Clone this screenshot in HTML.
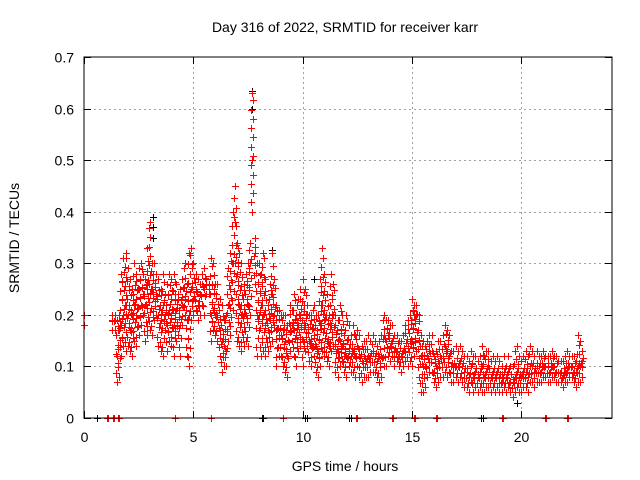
<!DOCTYPE html>
<html><head><meta charset="utf-8"><style>
body{margin:0;background:#fff}
svg{display:block;font-family:"Liberation Sans",sans-serif}
</style></head><body>
<svg id="chart" width="640" height="480" viewBox="0 0 640 480">
<rect width="640" height="480" fill="#fff"/>
<text x="345" y="32" font-size="14" text-anchor="middle">Day 316 of 2022, SRMTID for receiver karr</text>
<text x="345" y="471" font-size="14" text-anchor="middle">GPS time / hours</text>
<text transform="translate(19,238) rotate(-90)" font-size="14" text-anchor="middle">SRMTID / TECUs</text>
<g id="grid"></g>
<g id="ticks"></g>
<g id="marks"></g>
<rect x="84" y="57" width="528" height="361" fill="none" stroke="#000" stroke-width="1"/>
</svg>
<script>
const xTicks=[0,5,10,15,20];
const yTicks=[0,0.1,0.2,0.3,0.4,0.5,0.6,0.7];
const yTickLabels=["0","0.1","0.2","0.3","0.4","0.5","0.6","0.7"];
const times=[1.3,1.4,1.5,1.6,1.7,1.8,1.9,
2.0,2.1,2.2,2.3,2.4,2.5,2.6,2.7,2.8,2.9,3.0,3.1,3.2,3.3,3.4,3.5,3.6,3.7,3.8,3.9,
4.0,4.1,4.2,4.3,4.4,4.5,4.6,4.7,4.8,4.9,5.0,5.1,5.2,5.3,5.4,5.5,5.6,5.7,5.8,5.9,
6.0,6.1,6.2,6.3,6.4,6.5,6.6,6.7,6.8,6.9,7.0,7.1,7.2,7.3,7.4,7.5,7.6,7.7,7.8,7.9,
8.0,8.1,8.2,8.3,8.4,8.5,8.6,8.7,8.8,8.9,9.0,9.1,9.2,9.3,9.4,9.5,9.6,9.7,9.8,9.9,
10.0,10.1,10.2,10.3,10.4,10.5,10.6,10.7,10.8,10.9,11.0,11.1,11.2,11.3,11.4,11.5,11.6,11.7,11.8,11.9,
12.0,12.1,12.2,12.3,12.4,12.5,12.6,12.7,12.8,12.9,13.0,13.1,13.2,13.3,13.4,13.5,13.6,13.7,13.8,13.9,
14.0,14.1,14.2,14.3,14.4,14.5,14.6,14.7,14.8,14.9,15.0,15.1,15.2,15.3,15.4,15.5,15.6,15.7,15.8,15.9,
16.0,16.1,16.2,16.3,16.4,16.5,16.6,16.7,16.8,16.9,17.0,17.1,17.2,17.3,17.4,17.5,17.6,17.7,17.8,17.9,
18.0,18.1,18.2,18.3,18.4,18.5,18.6,18.7,18.8,18.9,19.0,19.1,19.2,19.3,19.4,19.5,19.6,19.7,19.8,19.9,
20.0,20.1,20.2,20.3,20.4,20.5,20.6,20.7,20.8,20.9,21.0,21.1,21.2,21.3,21.4,21.5,21.6,21.7,21.8,21.9,
22.0,22.1,22.2,22.3,22.4,22.5,22.6,22.7,22.8];
const lowVals=[.17,.17,.07,.08,.12,.14,.13,
.14,.13,.12,.15,.14,.16,.18,.2,.15,.16,.17,.16,.19,.2,.14,.13,.12,.17,.13,.15,
.14,.12,.15,.16,.12,.18,.2,.12,.1,.19,.2,.21,.19,.2,.22,.2,.24,.24,.15,.17,
.16,.15,.12,.09,.1,.1,.15,.16,.21,.3,.15,.14,.13,.14,.15,.14,.2,.4,.26,.12,
.17,.12,.13,.12,.13,.14,.15,.18,.1,.12,.12,.1,.09,.08,.13,.15,.12,.1,.13,.14,
.1,.13,.14,.11,.1,.12,.09,.08,.1,.13,.12,.11,.1,.13,.14,.09,.08,.1,.11,.09,
.08,.1,.09,.09,.08,.1,.08,.07,.08,.08,.08,.09,.09,.09,.08,.07,.08,.1,.1,.12,
.11,.12,.1,.11,.1,.09,.1,.11,.1,.11,.1,.12,.13,.08,.05,.05,.06,.08,.09,.09,
.07,.06,.07,.08,.08,.09,.08,.09,.07,.07,.08,.07,.08,.07,.06,.06,.05,.07,.05,.06,
.05,.06,.05,.05,.06,.06,.05,.06,.05,.06,.05,.05,.06,.05,.06,.05,.04,.05,.06,.05,
.05,.06,.06,.05,.07,.07,.06,.07,.07,.07,.08,.08,.07,.07,.08,.08,.07,.07,.07,.06,
.07,.07,.08,.08,.07,.06,.07,.07,.08];
const midVals=[.19,.19,.12,.17,.18,.2,.22,
.2,.17,.2,.22,.2,.25,.22,.24,.22,.26,.24,.25,.3,.24,.2,.19,.22,.2,.18,.21,
.2,.18,.21,.23,.18,.22,.23,.19,.2,.25,.23,.25,.22,.24,.26,.25,.26,.25,.2,.21,
.2,.2,.17,.15,.14,.13,.22,.25,.3,.38,.28,.22,.2,.2,.2,.22,.3,.5,.32,.2,
.2,.22,.2,.18,.17,.19,.24,.2,.17,.16,.16,.17,.15,.12,.18,.18,.17,.16,.18,.2,
.15,.18,.2,.15,.14,.16,.14,.13,.18,.22,.19,.15,.14,.18,.2,.14,.13,.15,.14,.12,
.12,.13,.12,.13,.12,.14,.12,.11,.12,.11,.12,.12,.13,.12,.11,.12,.12,.16,.15,.16,
.14,.15,.13,.13,.12,.12,.13,.13,.14,.15,.15,.2,.2,.15,.12,.1,.1,.12,.13,.13,
.09,.1,.11,.12,.12,.14,.13,.12,.1,.1,.1,.1,.11,.1,.09,.09,.08,.1,.08,.09,
.08,.09,.1,.08,.09,.1,.08,.09,.08,.09,.08,.07,.09,.08,.09,.07,.07,.08,.09,.08,
.08,.09,.09,.08,.1,.1,.09,.1,.1,.09,.1,.1,.1,.09,.1,.1,.09,.09,.09,.08,
.09,.09,.1,.1,.09,.09,.1,.1,.11];
const highVals=[.2,.2,.19,.2,.28,.31,.32,
.29,.27,.25,.3,.28,.29,.3,.28,.27,.33,.38,.3,.3,.28,.27,.25,.28,.24,.26,.28,
.27,.28,.26,.24,.25,.27,.3,.26,.32,.33,.3,.28,.27,.26,.28,.29,.27,.26,.31,.3,
.26,.26,.23,.22,.19,.2,.29,.32,.4,.45,.34,.32,.3,.26,.28,.3,.34,.63,.35,.3,
.3,.28,.32,.27,.22,.26,.32,.27,.22,.21,.2,.2,.2,.18,.22,.21,.24,.2,.23,.25,
.27,.25,.22,.2,.2,.22,.2,.2,.27,.33,.28,.24,.2,.28,.26,.2,.19,.22,.2,.16,
.2,.18,.16,.18,.16,.17,.16,.14,.15,.15,.16,.15,.16,.15,.14,.15,.16,.2,.19,.19,
.18,.18,.16,.16,.15,.15,.16,.18,.19,.2,.23,.22,.22,.2,.16,.15,.14,.15,.16,.16,
.12,.13,.15,.15,.16,.18,.17,.16,.13,.13,.14,.13,.14,.13,.12,.12,.11,.13,.12,.12,
.11,.12,.14,.12,.13,.13,.11,.12,.11,.12,.11,.1,.12,.1,.12,.1,.1,.13,.14,.12,
.11,.12,.13,.12,.14,.13,.12,.13,.12,.12,.13,.12,.12,.12,.13,.12,.12,.11,.11,.11,
.12,.13,.12,.12,.12,.11,.16,.15,.13];
const startTimes=[0.02,0.02];
const startVals=[0.2,0.18];
const zeroRedTimes=[1.05,1.08,1.33,1.36,1.55,1.58,4.14,4.17,5.79,5.82,9.08,9.11,12.46,12.49,14.11,14.14,15.11,15.14,16.12,16.15,19.14,19.17,21.1,21.13,22.11,22.14];
const zeroBlackTimes=[0.6,8.12,8.2,10.13,10.2,12.12,12.2,18.16,18.24];
const blackTimes=[3.15,3.15,3.15,7.7,7.7,8.6,10.5,15.0,22.6,19.8];
const blackVals=[.39,.37,.35,.635,.6,.325,.27,.23,.16,.03];

const X0=84,X1=612,Y0=418,Y1=57,XMAX=24.15,YMAX=0.7;
const sx=t=>X0+(t/XMAX)*(X1-X0);
const sy=v=>Y0-(v/YMAX)*(Y0-Y1);
const NS="http://www.w3.org/2000/svg";
const grid=document.getElementById('grid'),ticks=document.getElementById('ticks'),marks=document.getElementById('marks');
function line(p,x1,y1,x2,y2,st,dash){const l=document.createElementNS(NS,'line');l.setAttribute('x1',x1);l.setAttribute('y1',y1);l.setAttribute('x2',x2);l.setAttribute('y2',y2);l.setAttribute('stroke',st);l.setAttribute('stroke-width',1);if(dash)l.setAttribute('stroke-dasharray',dash);p.appendChild(l);return l;}
xTicks.forEach(t=>{const x=Math.round(sx(t))+0.5;
 if(t>0){const g=line(grid,x,Y1,x,Y0,'#a0a0a0','2,3');
 
 }
 line(ticks,x,Y0,x,Y0-7,'#000');line(ticks,x,Y1,x,Y1+7,'#000');
 const tx=document.createElementNS(NS,'text');tx.setAttribute('x',x);tx.setAttribute('y',Y0+24);tx.setAttribute('font-size','14');tx.setAttribute('text-anchor','middle');tx.textContent=String(t);
 
 
 ticks.appendChild(tx);});
yTicks.forEach((v,i)=>{const y=Math.round(sy(v))+0.5;
 if(v>0&&v<YMAX){const g=line(grid,X0,y,X1,y,'#a0a0a0','2,3');
 
 }
 line(ticks,X0,y,X0+7,y,'#000');line(ticks,X1,y,X1-7,y,'#000');
 const tx=document.createElementNS(NS,'text');tx.setAttribute('x',X0-10);tx.setAttribute('y',y+5);tx.setAttribute('font-size','14');tx.setAttribute('text-anchor','end');tx.textContent=yTickLabels[i];
 
 
 ticks.appendChild(tx);});
let dR='',dB='';
function cross(t,v,black){const x=Math.round(sx(t))+0.5,y=Math.round(sy(v))+0.5;const s=`M${x-3.5} ${y}h7M${x} ${y-3.5}v7`;if(black)dB+=s;else dR+=s;}
blackTimes.forEach((t,i)=>cross(t,blackVals[i],true));
zeroBlackTimes.forEach(t=>cross(t,0,true));
times.forEach((t,i)=>{const lo=lowVals[i],hi=highVals[i],m=midVals[i];
 cross(t,lo);cross(t,m);cross(t,hi);
 const step=0.018;let k=0;
 for(let v=lo+step;v<hi-step/2;v+=step){cross(t+(k%2?0.04:-0.04),v);k++;}
});
startTimes.forEach((t,i)=>cross(t,startVals[i]));
zeroRedTimes.forEach(t=>cross(t,0));
const pB=document.createElementNS(NS,'path');pB.setAttribute('d',dB);pB.setAttribute('stroke','#000');pB.setAttribute('fill','none');


marks.appendChild(pB);
const pR=document.createElementNS(NS,'path');pR.setAttribute('d',dR);pR.setAttribute('stroke','#ff0000');pR.setAttribute('fill','none');


marks.appendChild(pR);
</script>
</body></html>
